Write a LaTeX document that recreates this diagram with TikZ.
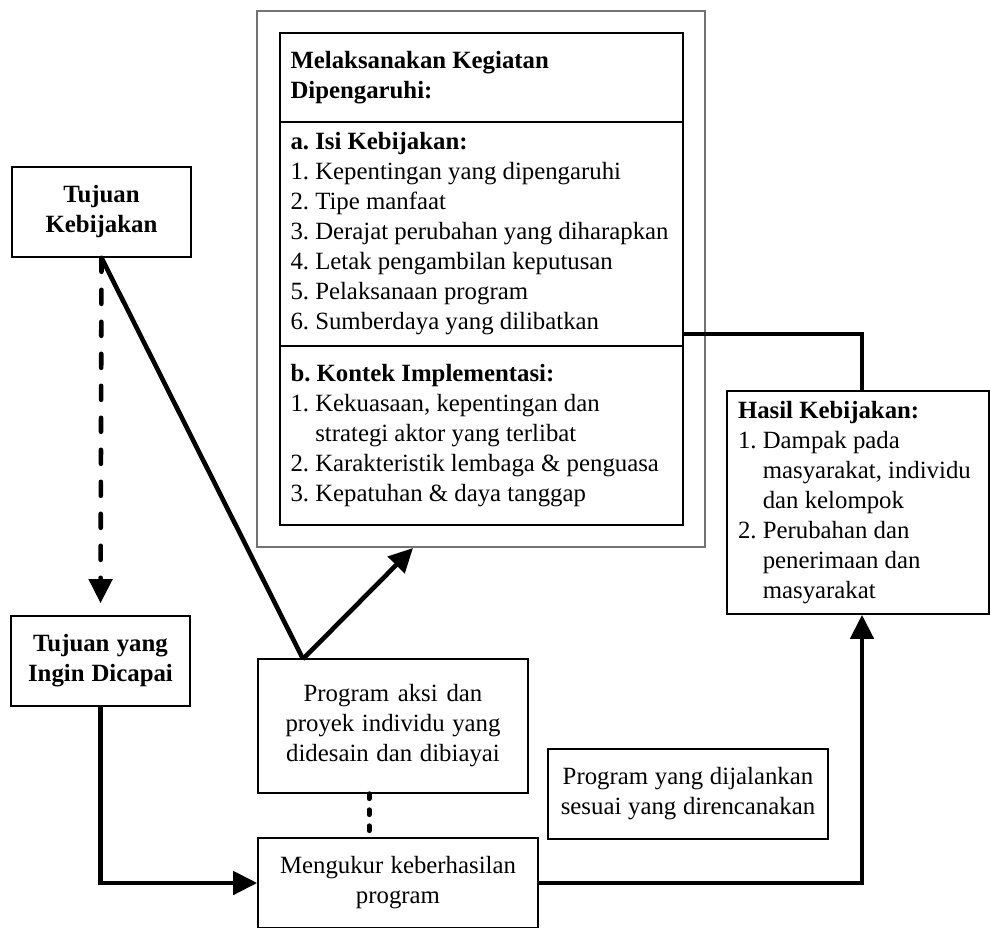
\documentclass[tikz,border=0pt]{standalone}
\usepackage{fontspec}
\setmainfont{Liberation Serif}
\usetikzlibrary{arrows.meta}
\frenchspacing
\begin{document}
\begin{tikzpicture}[x=0.5pt,y=-0.5pt,
  every node/.style={font=\fontsize{12.4}{15}\selectfont\frenchspacing,
    execute at begin node={\spaceskip=0pt\relax\xspaceskip=0pt\relax\hyphenpenalty=10000\relax}},
  box/.style={draw, line width=0.8pt, inner sep=0pt},
  lbox/.style={box, align=left},
  cbox/.style={box, align=center},
  outerbox/.style={draw=black!55, line width=0.6pt, inner sep=0pt, minimum width=224pt, minimum height=268pt},
  conn/.style={line width=2.3pt},
  tipend/.style={-{Triangle[length=12pt,width=11.5pt]}},
  dashline/.style={conn, line cap=round, dash pattern=on 7pt off 9pt},
  dotline/.style={line width=2.5pt, line cap=round, dash pattern=on 2.4pt off 5.6pt},
]
\useasboundingbox (0,0) rectangle (990,927);

% outer frame
\node[outerbox] (outer) at (481,279) {};

% inner three-part box
\node[lbox, minimum width=201.5pt, minimum height=44.5pt, text width=191pt] (ib1) at (481.5,77.5)
  {\textbf{Melaksanakan Kegiatan}\\\textbf{Dipengaruhi:}};
\node[lbox, minimum width=201.5pt, minimum height=112pt, text width=191pt] (ib2) at (481.5,234)
  {\textbf{a. Isi Kebijakan:}\\
   1. Kepentingan yang dipengaruhi\\
   2. Tipe manfaat\\
   3. Derajat perubahan yang diharapkan\\
   4. Letak pengambilan keputusan\\
   5. Pelaksanaan program\\
   6. Sumberdaya yang dilibatkan};
\node[lbox, minimum width=201.5pt, minimum height=89.5pt, text width=191pt] (ib3) at (481.5,435.5)
  {\textbf{b. Kontek Implementasi:}\\
   1. Kekuasaan, kepentingan dan\\
   \hphantom{1.\ }strategi aktor yang terlibat\\
   2. Karakteristik lembaga \& penguasa\\
   3. Kepatuhan \& daya tanggap};

% other boxes
\node[cbox, minimum width=89.5pt, minimum height=45pt, text width=85pt] (tk) at (101.5,212)
  {\textbf{Tujuan}\\\textbf{Kebijakan}};
\node[cbox, minimum width=89.5pt, minimum height=45pt, text width=85pt] (ty) at (100.5,661)
  {\textbf{Tujuan yang}\\\textbf{Ingin Dicapai}};
\node[cbox, minimum width=135pt, minimum height=67pt, text width=130pt] (pa) at (393,726)
  {Program aksi dan\\proyek individu yang\\didesain dan dibiayai};
\node[cbox, minimum width=140pt, minimum height=45pt, text width=135pt] (mk) at (398,883)
  {Mengukur keberhasilan\\program};
\node[cbox, minimum width=140pt, minimum height=45pt, text width=135pt] (pj) at (688,794)
  {Program yang dijalankan\\sesuai yang direncanakan};
\node[lbox, minimum width=131pt, minimum height=111.5pt, text width=120pt] (hk) at (858,502.5)
  {\textbf{Hasil Kebijakan:}\\
   1. Dampak pada\\
   \hphantom{1.\ }masyarakat, individu\\
   \hphantom{1.\ }dan kelompok\\
   2. Perubahan dan\\
   \hphantom{2.\ }penerimaan dan\\
   \hphantom{2.\ }masyarakat};

% helper coordinates
\coordinate (vtx) at (303,659);
\coordinate (otgt) at (413,548);
\coordinate (dotx) at (369,0);
\coordinate (c1) at (683,334);
\coordinate (rx) at (862,0);

% connectors
\draw[dashline, tipend, shorten >=6pt] (tk.south) -- (ty.north);
\draw[conn, line join=round] (tk.south) -- (vtx);
\draw[conn, tipend] (vtx) -- (otgt);
\draw[conn, tipend] (ty.south) |- (mk.west);
\draw[dotline] (pa.south -| dotx) -- (mk.north -| dotx);
\draw[conn, tipend] (mk.east) -| (hk.south -| rx);
\draw[conn] (c1) -| (hk.north -| rx);
\end{tikzpicture}
\end{document}
